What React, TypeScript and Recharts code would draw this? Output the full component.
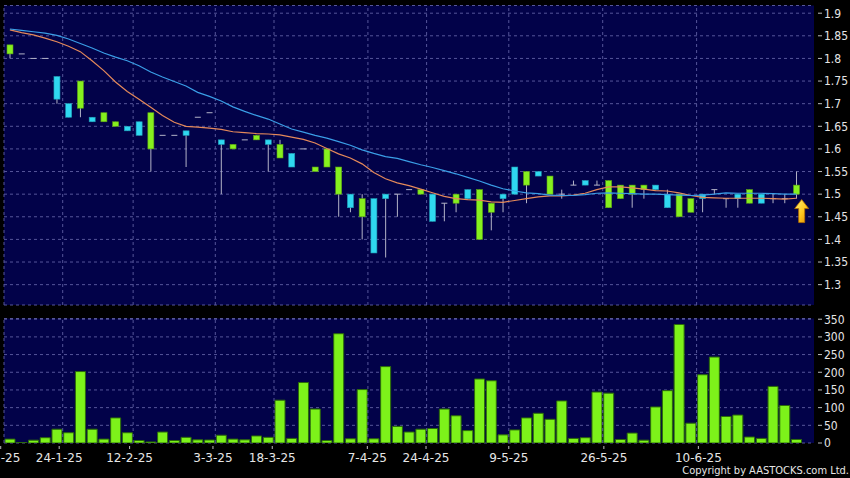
import React from "react";
import {
  Bar,
  CartesianGrid,
  ComposedChart,
  Line,
  ReferenceDot,
  ReferenceLine,
  XAxis,
  YAxis,
} from "recharts";

// price candles, one per trading slot (flat ones are open = close)
const opens = [
  1.81, 1.81, 1.8, 1.8, 1.76, 1.7, 1.69, 1.67, 1.66, 1.65, 1.65, 1.66, 1.6, 1.63, 1.63, 1.64, 1.67,
  1.68, 1.62, 1.6, 1.62, 1.62, 1.62, 1.58, 1.59, 1.6, 1.55, 1.56, 1.5, 1.5, 1.45, 1.49, 1.5, 1.5,
  1.51, 1.5, 1.5, 1.48, 1.48, 1.51, 1.4, 1.46, 1.5, 1.56, 1.52, 1.55, 1.5, 1.5, 1.52, 1.53, 1.52,
  1.47, 1.49, 1.5, 1.51, 1.52, 1.5, 1.45, 1.46, 1.5, 1.51, 1.49, 1.5, 1.48, 1.5, 1.49, 1.49, 1.5,
];
const closes = [
  1.83, 1.81, 1.8, 1.8, 1.71, 1.67, 1.75, 1.66, 1.68, 1.66, 1.64, 1.63, 1.68, 1.63, 1.63, 1.63, 1.67,
  1.68, 1.61, 1.61, 1.62, 1.63, 1.61, 1.61, 1.56, 1.6, 1.56, 1.6, 1.56, 1.47, 1.49, 1.37, 1.49, 1.5,
  1.51, 1.51, 1.44, 1.48, 1.5, 1.49, 1.51, 1.48, 1.49, 1.5, 1.55, 1.54, 1.54, 1.5, 1.52, 1.52, 1.52,
  1.53, 1.52, 1.52, 1.52, 1.51, 1.47, 1.5, 1.49, 1.49, 1.51, 1.49, 1.49, 1.51, 1.48, 1.49, 1.49, 1.52,
];
const highs = [
  1.83, 1.81, 1.8, 1.8, 1.76, 1.7, 1.75, 1.67, 1.68, 1.66, 1.65, 1.66, 1.68, 1.63, 1.63, 1.64, 1.67,
  1.68, 1.62, 1.61, 1.62, 1.63, 1.62, 1.62, 1.59, 1.6, 1.56, 1.6, 1.56, 1.5, 1.5, 1.49, 1.5, 1.5,
  1.51, 1.51, 1.5, 1.48, 1.5, 1.51, 1.51, 1.48, 1.5, 1.56, 1.55, 1.55, 1.54, 1.51, 1.53, 1.53, 1.53,
  1.53, 1.52, 1.52, 1.52, 1.52, 1.51, 1.5, 1.49, 1.5, 1.51, 1.49, 1.5, 1.51, 1.5, 1.5, 1.5, 1.55,
];
const lows = [
  1.8, 1.81, 1.8, 1.8, 1.7, 1.67, 1.67, 1.66, 1.66, 1.65, 1.64, 1.63, 1.55, 1.63, 1.63, 1.56, 1.67,
  1.68, 1.5, 1.6, 1.62, 1.62, 1.55, 1.58, 1.56, 1.6, 1.55, 1.56, 1.45, 1.46, 1.4, 1.37, 1.36, 1.45,
  1.51, 1.5, 1.44, 1.44, 1.46, 1.49, 1.4, 1.42, 1.46, 1.5, 1.48, 1.54, 1.5, 1.49, 1.52, 1.52, 1.52,
  1.47, 1.49, 1.47, 1.49, 1.51, 1.47, 1.45, 1.46, 1.46, 1.5, 1.47, 1.47, 1.48, 1.48, 1.48, 1.48, 1.49,
];

// moving averages (orange = short, blue = long)
const maShort = [
  1.863, 1.857, 1.852, 1.845, 1.837, 1.827, 1.815, 1.795, 1.773, 1.748, 1.727, 1.71, 1.692, 1.674,
  1.659, 1.65, 1.648, 1.646, 1.643, 1.638, 1.636, 1.634, 1.633, 1.631, 1.626, 1.621, 1.613, 1.601,
  1.589, 1.58, 1.567, 1.548, 1.534, 1.525, 1.519, 1.511, 1.503, 1.495, 1.49, 1.488, 1.487, 1.483,
  1.482, 1.486, 1.49, 1.494, 1.496, 1.496, 1.498, 1.502, 1.51, 1.516, 1.516, 1.514, 1.511, 1.508,
  1.507, 1.503, 1.497, 1.493, 1.492, 1.491, 1.491, 1.491, 1.491, 1.49, 1.489, 1.491,
];
const maLong = [
  1.865, 1.862, 1.859, 1.856, 1.851, 1.843, 1.833, 1.823, 1.812, 1.803, 1.795, 1.784, 1.77, 1.759,
  1.749, 1.739, 1.725, 1.716, 1.706, 1.693, 1.683, 1.674, 1.666, 1.655, 1.644, 1.637, 1.63, 1.624,
  1.616, 1.608, 1.598, 1.59, 1.583, 1.579, 1.572, 1.565, 1.559, 1.552, 1.545, 1.537, 1.529, 1.52,
  1.512, 1.507, 1.503, 1.501, 1.498, 1.497, 1.497, 1.499, 1.502, 1.503, 1.502, 1.501, 1.5, 1.5,
  1.499, 1.498, 1.497, 1.498, 1.5, 1.503, 1.502, 1.502, 1.502, 1.501, 1.5, 1.5,
];

// volume (thousands)
const volumes = [
  11, 1, 8, 15, 39, 29, 202, 39, 11, 71, 29, 7, 3, 31, 7, 16, 9, 8.5, 22, 11, 9, 20, 16, 121, 13,
  171, 96, 7, 309, 12, 151, 12, 216, 47, 31, 39, 41, 96, 77, 35, 181, 176, 23, 37, 71, 84, 67, 119,
  13, 15, 144, 141, 10, 28, 8, 102, 148, 335, 56, 193, 243, 75, 79, 17, 13, 160, 106, 10,
];

const dateLabels = ["9-1-25", "24-1-25", "12-2-25", "3-3-25", "18-3-25", "7-4-25", "24-4-25", "9-5-25", "26-5-25", "10-6-25"];
const dateSlots = [-0.28, 4.7, 10.7, 17.8, 22.85, 30.95, 35.95, 43.0, 51.1, 59.15];
const gridSlots = [0, 5, 11, 18, 23, 31, 36, 43, 51, 59];
const priceTicks = [1.3, 1.35, 1.4, 1.45, 1.5, 1.55, 1.6, 1.65, 1.7, 1.75, 1.8, 1.85, 1.9];
const volumeTicks = [0, 50, 100, 150, 200, 250, 300, 350];
const arrowMark = { slot: 67.95, price: 1.488 };

const rows = opens.map((o, i) => ({
  x: i + 0.5,
  open: o,
  close: closes[i],
  high: highs[i],
  low: lows[i],
  range: [lows[i], highs[i]],
  maShort: maShort[i],
  maLong: maLong[i],
  vol: volumes[i],
}));

const NAVY = "#020249";
const GRID = "#56569a";
const UP = "#86f01e";
const DOWN = "#2fd8f0";
const WICK = "#b4b4c8";
const LABEL = "#e6e6e6";

function Candle(props: any) {
  const { x, y, width, height, payload } = props;
  if (x == null || y == null) return null;
  const { open, close, high, low } = payload;
  const top = Math.min(y, y + height);
  const h = Math.abs(height);
  const span = high - low;
  const py = (v: number) => (span === 0 ? top : top + ((high - v) / span) * h);
  const cx = x + width / 2;
  const bw = 6;
  if (open === close) {
    return (
      <g>
        {span > 0 && <line x1={cx} x2={cx} y1={top} y2={top + h} stroke={WICK} strokeWidth={1} />}
        <line x1={cx - bw / 2} x2={cx + bw / 2} y1={py(open)} y2={py(open)} stroke={WICK} strokeWidth={1} />
      </g>
    );
  }
  const up = close > open;
  const bTop = py(Math.max(open, close));
  const bBot = py(Math.min(open, close));
  return (
    <g>
      <line x1={cx} x2={cx} y1={top} y2={top + h} stroke={WICK} strokeWidth={1} />
      <rect
        x={cx - bw / 2}
        y={bTop}
        width={bw}
        height={Math.max(1, bBot - bTop)}
        fill={up ? UP : DOWN}
        stroke={up ? "#5aa014" : "#1e9cb4"}
        strokeWidth={0.6}
      />
    </g>
  );
}

function RightTick(props: any) {
  const { x, y, payload } = props;
  return (
    <g>
      <line x1={x + 4} x2={x + 8} y1={y} y2={y} stroke="#bdbdbd" strokeWidth={1} />
      <text
        x={x + 10}
        y={y}
        dy="0.36em"
        fill={LABEL}
        fontSize={12}
        fontFamily="'DejaVu Sans Condensed', 'DejaVu Sans', sans-serif"
      >
        {String(payload.value)}
      </text>
    </g>
  );
}

function DateTick(props: any) {
  const { x, y, payload, index } = props;
  return (
    <g>
      <line x1={x} x2={x} y1={y + 3} y2={y + 6} stroke="#bdbdbd" strokeWidth={1} />
      <text
        x={x}
        y={y + 15}
        dy="0.36em"
        textAnchor="middle"
        fill={LABEL}
        fontSize={12}
        fontFamily="'DejaVu Sans', sans-serif"
      >
        {dateLabels[index] ?? ""}
      </text>
    </g>
  );
}

function UpArrow(props: any) {
  const { cx, cy } = props;
  if (cx == null || cy == null) return null;
  return (
    <g>
      <defs>
        <linearGradient id="arrowFill" x1="0" y1="0" x2="1" y2="1">
          <stop offset="0%" stopColor="#fff27a" />
          <stop offset="55%" stopColor="#ffc81e" />
          <stop offset="100%" stopColor="#e08a00" />
        </linearGradient>
      </defs>
      <path
        d={`M${cx} ${cy} L${cx + 7} ${cy + 9} L${cx + 3} ${cy + 9} L${cx + 3} ${cy + 23} L${cx - 3} ${cy + 23} L${cx - 3} ${cy + 9} L${cx - 7} ${cy + 9} Z`}
        fill="url(#arrowFill)"
        stroke="#b86e00"
        strokeWidth={0.8}
      />
    </g>
  );
}

export default function App() {
  return (
    <div
      style={{
        position: "absolute",
        left: 0,
        top: 0,
        width: 850,
        height: 478,
        background: "#000",
        overflow: "hidden",
      }}
    >
      <div style={{ position: "absolute", left: 0, top: 0 }}>
        <ComposedChart width={850} height={310} data={rows} margin={{ top: 5.5, right: 0, bottom: 5, left: 4 }}>
          <CartesianGrid fill={NAVY} stroke={GRID} strokeDasharray="3 3" vertical={false} />
          <XAxis dataKey="x" type="number" domain={[0, 69]} hide allowDataOverflow />
          <YAxis
            orientation="right"
            domain={[1.255, 1.917]}
            ticks={priceTicks}
            allowDataOverflow
            width={36}
            axisLine={false}
            tickLine={false}
            tickSize={0}
            tickMargin={0}
            interval={0}
            tick={<RightTick />}
          />
          {gridSlots.map((g) => (
            <ReferenceLine key={g} x={g} stroke={GRID} strokeDasharray="3 3" />
          ))}
          <Bar dataKey="range" barSize={10} shape={<Candle />} isAnimationActive={false} />
          <Line
            type="linear"
            dataKey="maShort"
            stroke="#e4895a"
            strokeWidth={1.2}
            dot={false}
            isAnimationActive={false}
          />
          <Line
            type="linear"
            dataKey="maLong"
            stroke="#3a9ee6"
            strokeWidth={1.2}
            dot={false}
            isAnimationActive={false}
          />
          <ReferenceDot x={arrowMark.slot} y={arrowMark.price} r={0} shape={<UpArrow />} ifOverflow="visible" />
        </ComposedChart>
      </div>
      <div style={{ position: "absolute", left: 0, top: 310 }}>
        <ComposedChart width={850} height={168} data={rows} margin={{ top: 8.5, right: 0, bottom: 5, left: 4 }}>
          <CartesianGrid fill={NAVY} stroke={GRID} strokeDasharray="3 3" vertical={false} />
          <XAxis
            dataKey="x"
            type="number"
            domain={[0, 69]}
            allowDataOverflow
            ticks={dateSlots}
            interval={0}
            height={30}
            axisLine={false}
            tickLine={false}
            tickSize={0}
            tickMargin={0}
            tick={<DateTick />}
          />
          <YAxis
            orientation="right"
            domain={[0, 352]}
            ticks={volumeTicks}
            allowDataOverflow
            width={36}
            axisLine={false}
            tickLine={false}
            tickSize={0}
            tickMargin={0}
            interval={0}
            tick={<RightTick />}
          />
          {gridSlots.map((g) => (
            <ReferenceLine key={g} x={g} stroke={GRID} strokeDasharray="3 3" />
          ))}
          <Bar dataKey="vol" barSize={10} fill="#7df21a" stroke="#2c6a0a" strokeWidth={1} isAnimationActive={false} />
        </ComposedChart>
      </div>
      <div
        style={{
          position: "absolute",
          right: 1,
          top: 464,
          color: LABEL,
          fontSize: 11,
          lineHeight: "13px",
          fontFamily: "'DejaVu Sans Condensed', 'DejaVu Sans', sans-serif",
          whiteSpace: "nowrap",
        }}
      >
        Copyright by AASTOCKS.com Ltd.
      </div>
    </div>
  );
}
